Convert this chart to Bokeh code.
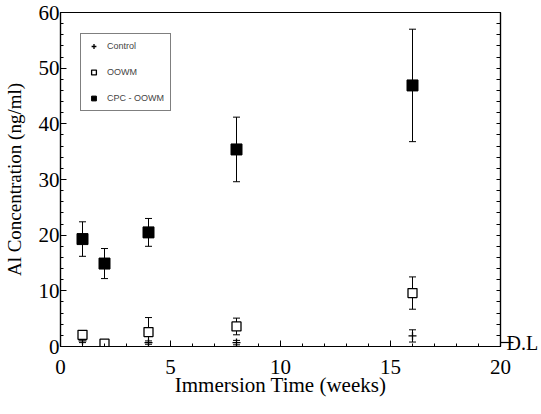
from bokeh.plotting import figure
from bokeh.models import (ColumnDataSource, Whisker, TeeHead, LinearAxis, SingleIntervalTicker,
                          FixedTicker, Legend, LegendItem, Range1d)
from bokeh.embed import file_html
from bokeh.resources import INLINE

weeks = [1, 2, 4, 8, 16]
control = [1.0, 0.3, 0.7, 0.7, 1.9]
control_err = [0.3, 0.2, 0.3, 0.4, 1.1]
oowm = [2.1, 0.5, 2.6, 3.6, 9.6]
oowm_err = [0.5, 0.2, 2.6, 1.5, 2.9]
cpc = [19.3, 14.9, 20.5, 35.4, 46.9]
cpc_err = [3.1, 2.7, 2.5, 5.8, 10.1]
dl_value = 0.7
right_minor_ticks = list(range(0, 61, 2))

def src(y, e):
    return ColumnDataSource(dict(x=weeks, y=y,
                                 lo=[a - b for a, b in zip(y, e)],
                                 hi=[a + b for a, b in zip(y, e)]))

s_ctrl = src(control, control_err)
s_oowm = src(oowm, oowm_err)
s_cpc = src(cpc, cpc_err)

serif = "Liberation Serif"

p = figure(frame_width=440, frame_height=334, output_backend="svg", toolbar_location=None,
           x_range=Range1d(0, 20), y_range=Range1d(0, 60),
           min_border_left=54, min_border_right=10, min_border_top=12, min_border_bottom=10)
p.grid.visible = False
p.outline_line_color = "black"
p.outline_line_width = 1.2
p.background_fill_color = "white"

for ax in (p.xaxis[0], p.yaxis[0]):
    ax.major_tick_in = 6
    ax.major_tick_out = 0
    ax.minor_tick_in = 3
    ax.minor_tick_out = 0
    ax.axis_line_width = 1.2
    ax.major_label_text_font = serif
    ax.major_label_text_font_size = "21px"
    ax.major_label_text_color = "black"
    ax.axis_label_text_font = serif
    ax.axis_label_text_font_style = "normal"
    ax.axis_label_text_color = "black"

p.xaxis[0].ticker = SingleIntervalTicker(interval=5, num_minor_ticks=5)
p.yaxis[0].ticker = SingleIntervalTicker(interval=10, num_minor_ticks=5)
p.xaxis[0].axis_label = "Immersion Time (weeks)"
p.yaxis[0].axis_label = "Al Concentration (ng/ml)"
p.xaxis[0].axis_label_text_font_size = "21px"
p.yaxis[0].axis_label_text_font_size = "19px"
p.xaxis[0].axis_label_standoff = -4
p.yaxis[0].axis_label_standoff = 11
p.xaxis[0].major_label_standoff = 13
p.yaxis[0].major_label_standoff = 1

ry = LinearAxis(ticker=FixedTicker(ticks=[dl_value], minor_ticks=right_minor_ticks))
ry.major_label_overrides = {dl_value: "D.L"}
ry.major_tick_in = 0
ry.major_tick_out = 13
ry.major_tick_line_width = 1.2
ry.minor_tick_in = 4
ry.minor_tick_out = 0
ry.major_label_standoff = -7
ry.major_label_text_font = serif
ry.major_label_text_font_size = "20px"
ry.major_label_text_color = "black"
ry.axis_line_width = 1.2
p.add_layout(ry, "right")

for s in (s_ctrl, s_oowm, s_cpc):
    w = Whisker(source=s, base="x", upper="hi", lower="lo", line_color="black", line_width=1,
                upper_head=TeeHead(size=7, line_color="black"),
                lower_head=TeeHead(size=7, line_color="black"))
    p.add_layout(w)

r_ctrl = p.scatter("x", "y", source=s_ctrl, marker="cross", size=8, line_color="black", line_width=1.3)
r_oowm = p.scatter("x", "y", source=s_oowm, marker="square", size=9, line_color="black",
                   fill_color="white", line_width=1.3)
r_cpc = p.scatter("x", "y", source=s_cpc, marker="square", size=11, line_color="black",
                  fill_color="black")

legend = Legend(items=[LegendItem(label="Control", renderers=[r_ctrl]),
                       LegendItem(label="OOWM", renderers=[r_oowm]),
                       LegendItem(label="CPC - OOWM", renderers=[r_cpc])],
                location=(20, 235))
legend.border_line_color = "black"
legend.border_line_width = 1
legend.label_text_font = "Liberation Sans"
legend.label_text_font_size = "9px"
legend.glyph_width = 13
legend.glyph_height = 12
legend.label_height = 12
legend.spacing = 14
legend.padding = 6
legend.margin = 0
legend.label_standoff = 7
legend.background_fill_alpha = 1
p.add_layout(legend)

open("out.html", "w").write(file_html(p, INLINE))
